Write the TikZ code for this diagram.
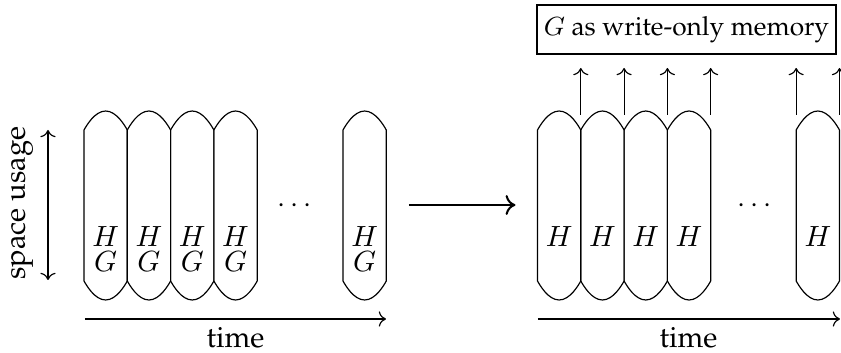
\documentclass[tikz,border=0pt]{standalone}
\usepackage[T1]{fontenc}
\renewcommand{\rmdefault}{ppl}
\usetikzlibrary{arrows.meta}
\tikzset{
  capsule/.pic={
    \draw (0,130) parabola bend (21.65,111) (43.3,130) -- (43.3,281)
          parabola bend (21.65,300) (0,281) -- cycle;
  },
  axis/.style={->},
  label/.style={inner sep=0pt},
  memo/.style={draw, inner sep=0pt, minimum width=102.4pt, minimum height=16.8pt,
               font=\fontsize{9}{11}\selectfont},
  transform/.style={line width=0.7pt, -{To[length=3.4pt, width=6.8pt]}}
}
\begin{document}
\begin{tikzpicture}[x=0.3425pt, y=-0.3425pt]
\useasboundingbox (0,0) rectangle (841,353);

% --- left: everything kept in ordinary memory ---
\foreach \i/\x in {1/84, 2/127.3, 3/170.6, 4/213.9, 5/343} {
  \pic at (\x,0) {capsule};
  \node[label, anchor=base] (lh\i) at (\x+21.65,247) {$H$};
  \node[label, anchor=base] (lg\i) at (\x+21.65,272) {$G$};
}
\node[label] (ldots) at (295,206) {$\cdots$};

\coordinate (sutop) at (48,130);
\coordinate (subot) at (48,280);
\draw[<->] (subot) -- (sutop);
\node[label, rotate=90] (su) at (22,203) {space usage};

\coordinate (lt0) at (85,319);
\coordinate (lt1) at (386,319);
\draw[axis] (lt0) -- (lt1);
\node[label] (ltime) at (235.5,338) {time};

% --- transformation arrow ---
\coordinate (m0) at (409,205);
\coordinate (m1) at (515.5,205);
\draw[transform] (m0) -- (m1);

% --- right: G moved to write-only memory ---
\foreach \i/\x in {1/537.5, 2/580.8, 3/624.1, 4/667.4, 5/796.2} {
  \pic at (\x,0) {capsule};
  \node[label, anchor=base] (rh\i) at (\x+21.65,247) {$H$};
}
\node[label] (rdots) at (755,206) {$\cdots$};

\node[memo] (mem) at (686.5,29.5) {$G$ as write-only memory};

\foreach \j/\x in {1/580.8, 2/624.1, 3/667.4, 4/710.7, 5/796.2, 6/839.5} {
  \coordinate (wb\j) at (\x,115);
  \coordinate (wt\j) at (\x,68);
  \draw[axis] (wb\j) -- (wt\j);
}

\coordinate (rt0) at (538,319);
\coordinate (rt1) at (840,319);
\draw[axis] (rt0) -- (rt1);
\node[label] (rtime) at (688.5,338) {time};
\end{tikzpicture}
\end{document}
